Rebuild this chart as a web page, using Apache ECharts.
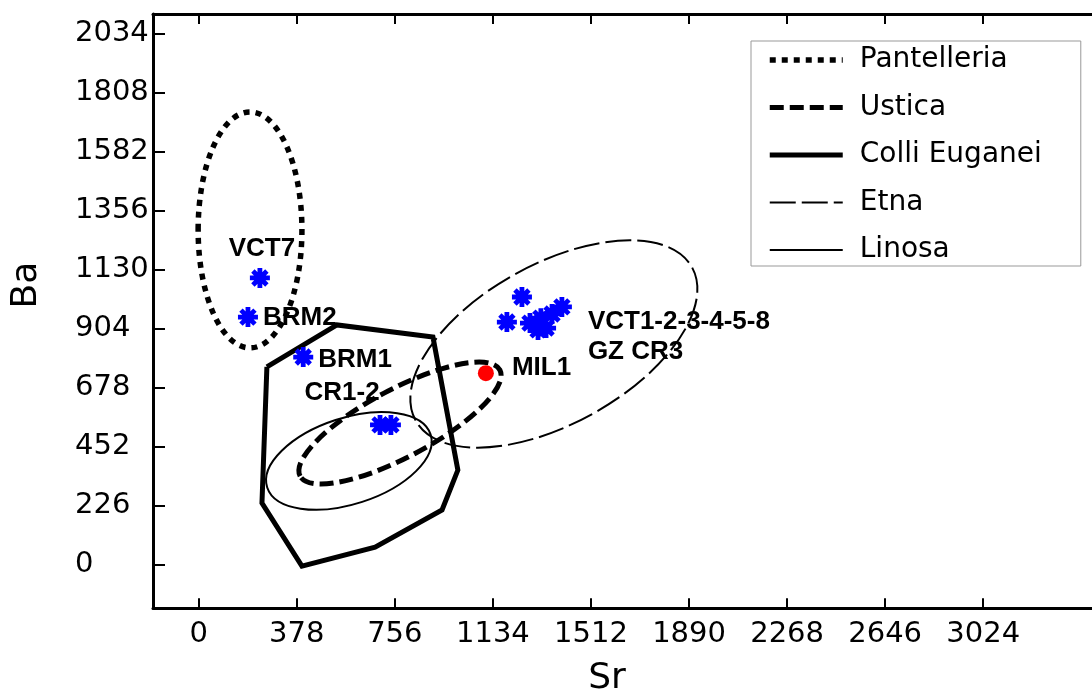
<!DOCTYPE html>
<html><head><meta charset="utf-8">
<script src="https://cdn.jsdelivr.net/npm/echarts@6/dist/echarts.min.js"></script>
<style>html,body{margin:0;padding:0;background:#fff}#chart{width:1092px;height:693px}</style>
</head><body><div id="chart"></div>
<script>
// ---------- data ----------
const xTicks = [0, 378, 756, 1134, 1512, 1890, 2268, 2646, 3024];
const yTicks = [0, 226, 452, 678, 904, 1130, 1356, 1582, 1808, 2034];
const legendNames = ['Pantelleria', 'Ustica', 'Colli Euganei', 'Etna', 'Linosa'];

// ellipse fields: [Sr centre, Ba centre, semi-axis along tilt (Sr units), semi-axis across tilt (Ba units), tilt in degrees]
const pantelleriaEllipse = [198, 1281, 200, 452, 0];
const usticaEllipse = [776, 541, 436, 130, 28];
const etnaEllipse = [1369, 844, 609, 306, 29];
const linosaEllipse = [579, 396, 331, 165, 18];

const colliEuganeiSr = [263, 533, 903, 999, 938, 680, 398, 244, 263];
const colliEuganeiBa = [756, 917, 871, 361, 208, 66, -7, 235, 756];

const sampleSr = [236, 190, 403, 699, 741, 1246, 1188, 1400, 1277, 1308, 1339, 1319, 1362];
const sampleBa = [1097, 947, 794, 534, 534, 1024, 928, 986, 924, 898, 905, 943, 959];
const sampleLabels = ['VCT7', 'BRM2', 'BRM1', 'CR1-2', '', '', '', 'VCT1-2-3-4-5-8\nGZ CR3', '', '', '', '', ''];

const mil1Sr = [1107];
const mil1Ba = [732];
const mil1Labels = ['MIL1'];

// ---------- styling ----------
const styles = {
  'Pantelleria': {width: 5.5, dash: [6, 6]},
  'Ustica': {width: 5, dash: [14, 6]},
  'Colli Euganei': {width: 5, dash: null},
  'Etna': {width: 2, dash: [26, 6]},
  'Linosa': {width: 2, dash: null}
};
const labelPlacement = {
  0: {align: 'center', offset: [2, -29]},
  1: {align: 'left', offset: [15, 1]},
  2: {align: 'left', offset: [15, 3]},
  3: {align: 'center', offset: [-38, -32]},
  7: {align: 'left', offset: [26, 30]}
};
const starPath = 'path://M0,38L100,38L100,62L0,62Z M38,0L62,0L62,100L38,100Z M23.5,6.5L93.5,76.5L76.5,93.5L6.5,23.5Z M76.5,6.5L93.5,23.5L23.5,93.5L6.5,76.5Z';
const labelFont = {fontFamily: 'Liberation Sans', fontWeight: 'bold', fontSize: 26, color: '#000', textBorderWidth: 0, lineHeight: 30, opacity: 1};

function legendLine(name, data) {
  const st = styles[name];
  return {
    type: 'line', name: name, data: data, symbol: 'none', silent: true, z: 3,
    itemStyle: {color: '#000'},
    lineStyle: {color: '#000', width: st.width, type: st.dash || 'solid', join: 'miter', cap: 'butt'}
  };
}
function ellipseSeries(name, params) {
  const st = styles[name];
  return {
    type: 'custom', name: name, coordinateSystem: 'cartesian2d', data: [params], silent: true, z: 3,
    renderItem: function (p, api) {
      const c = api.coord([api.value(0), api.value(1)]);
      const rx = api.size([api.value(2), 0])[0];
      const ry = api.size([0, api.value(3)])[1];
      return {
        type: 'ellipse', x: c[0], y: c[1], rotation: api.value(4) * Math.PI / 180,
        shape: {cx: 0, cy: 0, rx: rx, ry: ry},
        style: {fill: 'none', stroke: '#000', lineWidth: st.width, lineDash: st.dash, lineCap: 'butt'}
      };
    }
  };
}

const colliData = colliEuganeiSr.map((v, i) => [v, colliEuganeiBa[i]]);
const starData = sampleSr.map((v, i) => {
  const txt = sampleLabels[i];
  const pl = labelPlacement[i];
  return {
    value: [v, sampleBa[i]],
    label: txt ? Object.assign({show: true, formatter: txt, position: 'inside', align: pl.align, verticalAlign: 'middle', offset: pl.offset}, labelFont) : {show: false}
  };
});
const milData = mil1Sr.map((v, i) => ({
  value: [v, mil1Ba[i]],
  label: Object.assign({show: true, formatter: mil1Labels[i], position: 'inside', align: 'left', verticalAlign: 'middle', offset: [26, -5]}, labelFont)
}));

const axisFont = {fontFamily: 'DejaVu Sans', fontSize: 29, color: '#000'};
const plain = v => String(v);
const X_MIN = -176, X_MAX = 3474, Y_MIN = -168.5, Y_MAX = 2108;

const option = {
  animation: false,
  backgroundColor: '#fff',
  grid: {left: 153, top: 14, width: 947, height: 594.3, containLabel: false, outerBoundsMode: 'none'},
  xAxis: [{
    type: 'value', position: 'bottom', min: X_MIN, max: X_MAX,
    name: 'Sr', nameLocation: 'middle', nameGap: 50,
    nameTextStyle: {fontFamily: 'DejaVu Sans', fontSize: 36, color: '#000', lineHeight: 40, padding: [0, 39, 0, 0]},
    axisLine: {show: true, onZero: false, lineStyle: {color: '#000', width: 3}},
    axisTick: {show: true, inside: true, length: 10, customValues: xTicks, lineStyle: {color: '#000', width: 2}},
    axisLabel: Object.assign({show: true, margin: 12, customValues: xTicks, formatter: plain}, axisFont),
    splitLine: {show: false}
  }, {
    type: 'value', position: 'top', min: X_MIN, max: X_MAX,
    axisLine: {show: true, onZero: false, lineStyle: {color: '#000', width: 3}},
    axisTick: {show: true, inside: true, length: 10, customValues: xTicks, lineStyle: {color: '#000', width: 2}},
    axisLabel: {show: false},
    splitLine: {show: false}
  }],
  yAxis: [{
    type: 'value', position: 'left', min: Y_MIN, max: Y_MAX,
    name: 'Ba', nameLocation: 'middle', nameGap: 106,
    nameTextStyle: {fontFamily: 'DejaVu Sans', fontSize: 36, color: '#000', lineHeight: 40, padding: [0, 0, 0, 52]},
    axisLine: {show: true, onZero: false, lineStyle: {color: '#000', width: 3}},
    axisTick: {show: true, inside: true, length: 12, customValues: yTicks, lineStyle: {color: '#000', width: 2}},
    axisLabel: Object.assign({show: true, margin: 78, align: 'left', customValues: yTicks, formatter: plain}, axisFont),
    splitLine: {show: false}
  }],
  legend: {
    orient: 'vertical', left: 751, top: 41, padding: [4, 39, 1, 16],
    itemWidth: 73, itemHeight: 14, itemGap: 17.5,
    borderColor: '#999', borderWidth: 1, backgroundColor: '#fff',
    data: legendNames,
    lineStyle: {width: 'inherit'},
    itemStyle: {color: 'rgba(0,0,0,0)', borderWidth: 0, opacity: 0},
    textStyle: {fontFamily: 'DejaVu Sans', fontSize: 28, color: '#000', lineHeight: 30, padding: [0, 0, 0, 12]}
  },
  series: [
    legendLine('Pantelleria', []),
    legendLine('Ustica', []),
    legendLine('Colli Euganei', colliData),
    legendLine('Etna', []),
    legendLine('Linosa', []),
    ellipseSeries('Pantelleria', pantelleriaEllipse),
    ellipseSeries('Ustica', usticaEllipse),
    ellipseSeries('Etna', etnaEllipse),
    ellipseSeries('Linosa', linosaEllipse),
    {
      type: 'scatter', name: 'samples', data: starData, symbol: starPath, symbolSize: 20,
      itemStyle: {color: '#0000ff', opacity: 1}, z: 5, silent: true
    },
    {
      type: 'scatter', name: 'MIL1', data: milData, symbol: 'circle', symbolSize: 16,
      itemStyle: {color: '#ff0000', opacity: 1}, z: 6, silent: true
    }
  ]
};
const chart = echarts.init(document.getElementById('chart'), null, {renderer: 'canvas'});
chart.setOption(option);
</script>
</body></html>
